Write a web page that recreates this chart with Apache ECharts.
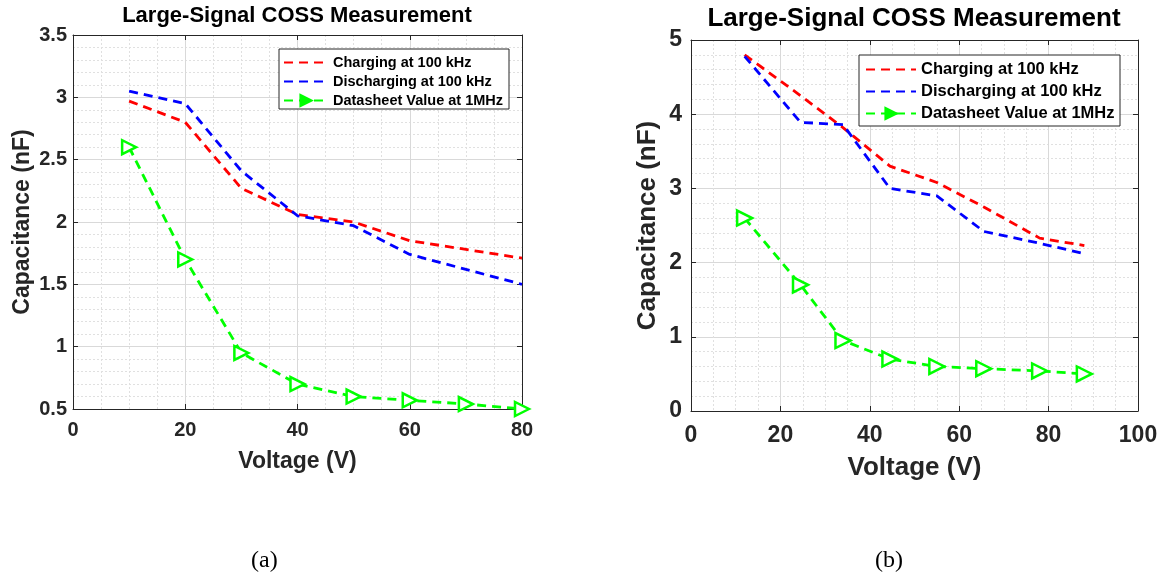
<!DOCTYPE html>
<html>
<head>
<meta charset="utf-8">
<script src="https://cdn.jsdelivr.net/npm/echarts@6/dist/echarts.min.js"></script>
<style>
  html, body { margin: 0; padding: 0; background: #fff; }
  #chart { width: 1166px; height: 577px; }
</style>
</head>
<body>
<div id="chart"></div>
<script>
// values
const seriesNames = ["Charging at 100 kHz", "Discharging at 100 kHz", "Datasheet Value at 1MHz"];

// (a)
const voltageA = [10, 20, 30, 40, 50, 60, 70, 80];
const chargingA = [2.97, 2.80, 2.27, 2.06, 2.00, 1.85, 1.78, 1.71];
const dischargingA = [3.05, 2.95, 2.41, 2.05, 1.97, 1.74, 1.62, 1.50];
const datasheetA = [2.60, 1.70, 0.95, 0.70, 0.60, 0.57, 0.54, 0.50];

// (b)
const voltageB = [12, 24.5, 34, 44.5, 55, 65.5, 78, 88];
const chargingB = [4.80, 4.25, 3.82, 3.30, 3.08, 2.75, 2.33, 2.23];
const dischargingB = [4.78, 3.89, 3.86, 3.00, 2.90, 2.42, 2.26, 2.12];
const datasheetB = [2.60, 1.70, 0.95, 0.70, 0.60, 0.57, 0.54, 0.50];

const captions = ["(a)", "(b)"];

const FONT = "Liberation Sans, Arial, sans-serif";
const INK = "#262626";
const colors = ["#ff0000", "#0000ff", "#00ff00"];

function pairs(xs, ys) {
  return xs.map((x, i) => [x, ys[i]]);
}

// main axis + a mirror axis on the other side for the box / ticks
function xAxes(grid, max, fontSize, nameSize, margin, nameGap) {
  return [
    {
      type: "value", gridIndex: grid, min: 0, max: max, interval: 20,
      name: "Voltage (V)", nameLocation: "middle", nameGap: nameGap,
      nameTextStyle: { fontFamily: FONT, fontWeight: "bold", fontSize: nameSize, color: INK },
      axisLine: { show: true, onZero: false, lineStyle: { color: INK, width: 1 } },
      axisTick: { show: true, inside: true, length: 5, lineStyle: { color: INK } },
      axisLabel: { fontFamily: FONT, fontWeight: "bold", fontSize: fontSize, color: INK, margin: margin },
      splitLine: { show: true, lineStyle: { color: "#d9d9d9", width: 1 } },
      minorTick: { show: false, splitNumber: 4 },
      minorSplitLine: { show: true, lineStyle: { color: "#e0e0e0", width: 1, type: [2, 2] } }
    },
    {
      type: "value", gridIndex: grid, position: "top", min: 0, max: max, interval: 20,
      axisLine: { show: true, onZero: false, lineStyle: { color: INK, width: 1 } },
      axisTick: { show: true, inside: true, length: 5, lineStyle: { color: INK } },
      axisLabel: { show: false },
      splitLine: { show: false }
    }
  ];
}

function yAxes(grid, min, max, interval, minorSplit, fontSize, nameSize, margin, nameGap) {
  return [
    {
      type: "value", gridIndex: grid, min: min, max: max, interval: interval,
      name: "Capacitance (nF)", nameLocation: "middle", nameGap: nameGap,
      nameTextStyle: { fontFamily: FONT, fontWeight: "bold", fontSize: nameSize, color: INK },
      axisLine: { show: true, onZero: false, lineStyle: { color: INK, width: 1 } },
      axisTick: { show: true, inside: true, length: 5, lineStyle: { color: INK } },
      axisLabel: { fontFamily: FONT, fontWeight: "bold", fontSize: fontSize, color: INK, margin: margin },
      splitLine: { show: true, lineStyle: { color: "#d9d9d9", width: 1 } },
      minorTick: { show: false, splitNumber: minorSplit },
      minorSplitLine: { show: true, lineStyle: { color: "#e0e0e0", width: 1, type: [2, 2] } }
    },
    {
      type: "value", gridIndex: grid, position: "right", min: min, max: max, interval: interval,
      axisLine: { show: true, onZero: false, lineStyle: { color: INK, width: 1 } },
      axisTick: { show: true, inside: true, length: 5, lineStyle: { color: INK } },
      axisLabel: { show: false },
      splitLine: { show: false }
    }
  ];
}

function lines(axisIdx, xs, charging, discharging, datasheet, markerSize) {
  const dash = [9, 6];
  return [
    {
      name: seriesNames[0], type: "line", xAxisIndex: axisIdx, yAxisIndex: axisIdx,
      data: pairs(xs, charging), symbol: "none", clip: false,
      lineStyle: { color: colors[0], width: 2.8, type: dash }, itemStyle: { color: colors[0] }
    },
    {
      name: seriesNames[1], type: "line", xAxisIndex: axisIdx, yAxisIndex: axisIdx,
      data: pairs(xs, discharging), symbol: "none", clip: false,
      lineStyle: { color: colors[1], width: 2.8, type: dash }, itemStyle: { color: colors[1] }
    },
    {
      name: seriesNames[2], type: "line", xAxisIndex: axisIdx, yAxisIndex: axisIdx,
      data: pairs(xs, datasheet), symbol: "triangle", symbolRotate: -90, symbolSize: markerSize,
      showSymbol: true, clip: false,
      lineStyle: { color: colors[2], width: 2.8, type: dash },
      itemStyle: { color: "#ffffff", borderColor: colors[2], borderWidth: 2.5 }
    }
  ];
}

function legend(left, top, fontSize, itemW, gap) {
  return {
    orient: "vertical", left: left, top: top, padding: 0,
    itemWidth: itemW, itemHeight: 14, itemGap: gap, itemTextGap: 5,
    selectedMode: false,
    textStyle: { fontFamily: FONT, fontWeight: "bold", fontSize: fontSize, color: "#000" },
    data: [
      // hide the dot so only the dashed line shows
      { name: seriesNames[0], itemStyle: { opacity: 0 } },
      { name: seriesNames[1], itemStyle: { opacity: 0 } },
      { name: seriesNames[2], itemStyle: { color: colors[2], borderColor: colors[2] } }
    ]
  };
}

const chart = echarts.init(document.getElementById("chart"), null, { renderer: "canvas" });

chart.setOption({
  backgroundColor: "#ffffff",
  animation: false,
  title: [
    {
      text: "Large-Signal COSS Measurement", left: 297, top: 5, textAlign: "center", padding: 0,
      textStyle: { fontFamily: FONT, fontWeight: "bold", fontSize: 22, color: "#000" }
    },
    {
      text: "Large-Signal COSS Measurement", left: 914, top: 6, textAlign: "center", padding: 0,
      textStyle: { fontFamily: FONT, fontWeight: "bold", fontSize: 26, color: "#000" }
    }
  ],
  grid: [
    { left: 73, top: 35, width: 449, height: 374, containLabel: false },
    { left: 691, top: 40, width: 447, height: 371, containLabel: false }
  ],
  xAxis: xAxes(0, 80, 20, 23, 11, 41).concat(xAxes(1, 100, 23, 26, 13, 44)),
  yAxis: yAxes(0, 0.5, 3.5, 0.5, 5, 20, 23, 6, 39).concat(yAxes(1, 0, 5, 1, 5, 23, 26, 9, 30)),
  legend: [
    legend(283, 55, 14.5, 44, 4),
    legend(865, 61, 16.5, 50, 5)
  ],
  graphic: [
    { type: "rect", z: 3, shape: { x: 279, y: 49, width: 230, height: 60 },
      style: { fill: "#fff", stroke: INK, lineWidth: 1 } },
    { type: "rect", z: 3, shape: { x: 859, y: 55, width: 261, height: 71 },
      style: { fill: "#fff", stroke: INK, lineWidth: 1 } },
    { type: "text", left: 251, top: 549, z: 5,
      style: { text: captions[0], fontFamily: "Liberation Serif, Times New Roman, serif", fontSize: 24, fill: "#000" } },
    { type: "text", left: 875, top: 549, z: 5,
      style: { text: captions[1], fontFamily: "Liberation Serif, Times New Roman, serif", fontSize: 24, fill: "#000" } }
  ],
  series: lines(0, voltageA, chargingA, dischargingA, datasheetA, 14)
    .concat(lines(2, voltageB, chargingB, dischargingB, datasheetB, 15))
});
</script>
</body>
</html>
